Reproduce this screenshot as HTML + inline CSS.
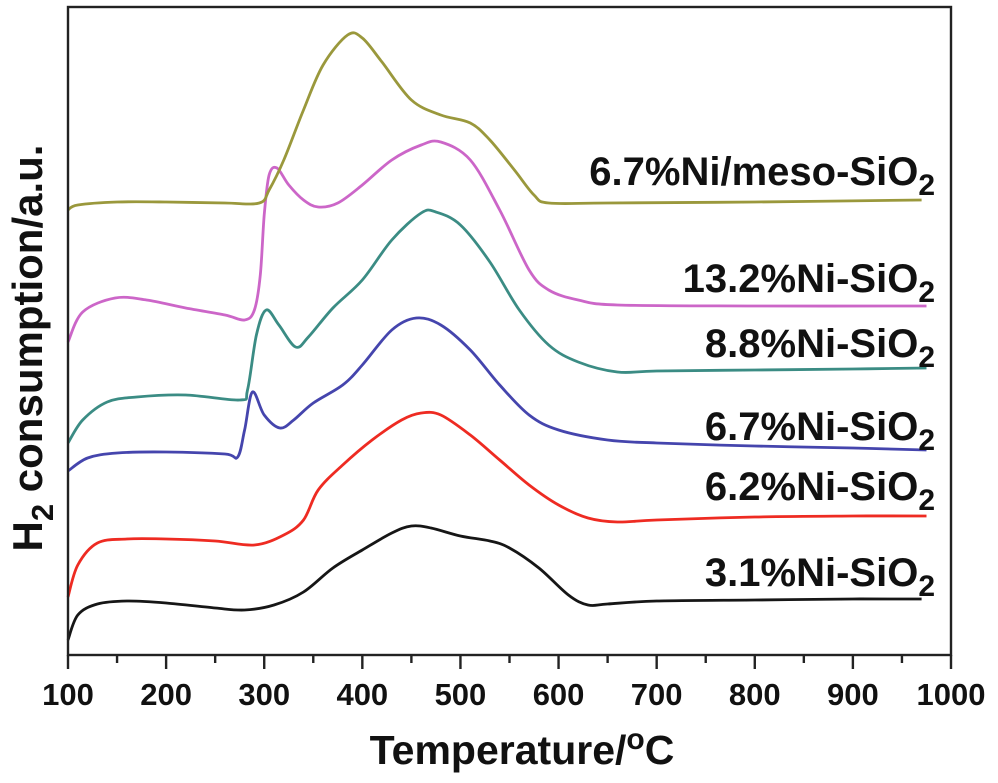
<!DOCTYPE html>
<html><head><meta charset="utf-8"><style>
html,body{margin:0;padding:0;background:#fff}
svg{display:block;font-family:"Liberation Sans",Arial,sans-serif;font-weight:bold}
</style></head><body>
<svg width="998" height="783" viewBox="0 0 998 783">
<g id="plot"></g>
</svg>
<script>
// x-axis ticks
const xTicks=[100,200,300,400,500,600,700,800,900,1000];
const xMinor=[150,250,350,450,550,650,750,850,950];
// series names
const names=["3.1%Ni-SiO2","6.2%Ni-SiO2","6.7%Ni-SiO2","8.8%Ni-SiO2","13.2%Ni-SiO2","6.7%Ni/meso-SiO2"];
const colors=["#161616","#ee2b22","#4545ad","#3b8c84","#cc66c8","#9a983c"];
// temperatures and signals (a.u., signal = height above x axis)
const t1=[100,110,130,160,200,250,280,310,340,370,400,430,450,470,500,530,550,580,610,630,650,700,800,900,970];
const s1=[15,40,51,54,52,47,45,50,63,87,105,122,129,127,119,114,107,87,60,50,51,54,55,56,56];
const t2=[100,110,130,160,200,250,290,320,340,355,380,410,440,460,480,510,540,570,600,630,660,700,800,900,975];
const s2=[58,90,112,116,116,114,110,120,135,165,190,215,235,242,240,220,195,170,150,137,133,135,138,139,139];
const t3=[100,120,150,200,260,273,280,288,300,316,330,350,380,400,430,455,480,510,540,570,600,650,700,800,900,975];
const s3=[184,197,202,203,201,198,225,263,240,227,235,252,270,290,325,337,330,305,270,240,225,215,212,209,207,205];
const t4=[100,115,140,170,220,275,283,292,302,315,332,345,370,400,430,460,475,500,530,560,590,620,660,700,800,900,975];
const s4=[212,235,253,258,260,255,265,320,345,330,308,318,347,375,415,442,443,430,393,345,310,293,283,284,285,286,287];
const t5=[100,115,148,180,220,260,280,290,296,300,305,313,325,340,355,375,400,430,460,480,510,540,570,590,620,660,800,975];
const s5=[313,343,357,355,347,340,335,345,380,440,480,487,470,455,448,452,470,495,510,513,495,445,385,365,355,350,349,349];
const t6=[100,110,150,200,260,295,305,320,340,360,385,400,420,450,480,510,530,555,575,590,650,800,970];
const s6=[445,450,453,453,452,452,465,495,545,590,620,617,593,555,540,532,515,485,460,452,452,453,455];
const ts=[t1,t2,t3,t4,t5,t6], ss=[s1,s2,s3,s4,s5,s6];
const labelY=[586,500,440,357,292,185];

const X0=68,X1=951,Y0=655,YT=7;
const xs=t=>X0+(t-100)/900*(X1-X0);
const ys=v=>Y0-v;
const NS="http://www.w3.org/2000/svg";
const g=document.getElementById('plot');
function mk(tag,attrs,parent){const e=document.createElementNS(NS,tag);for(const k in attrs)e.setAttribute(k,attrs[k]);(parent||g).appendChild(e);return e;}
function smooth(px,py){let d="M"+px[0]+","+py[0];for(let i=0;i<px.length-1;i++){const p0=i?i-1:i,p3=i+2<px.length?i+2:i+1;
const c1x=px[i]+(px[i+1]-px[p0])/6,c1y=py[i]+(py[i+1]-py[p0])/6,c2x=px[i+1]-(px[p3]-px[i])/6,c2y=py[i+1]-(py[p3]-py[i])/6;
d+=`C${c1x.toFixed(1)},${c1y.toFixed(1)} ${c2x.toFixed(1)},${c2y.toFixed(1)} ${px[i+1].toFixed(1)},${py[i+1].toFixed(1)}`;}return d;}

for(let k=0;k<names.length;k++){
 const p=mk('path',{d:smooth(ts[k].map(xs),ss[k].map(ys)),fill:'none',stroke:colors[k],'stroke-width':2.8,'stroke-linejoin':'round'});
 
 
 const tx=mk('text',{x:935,y:labelY[k],'text-anchor':'end','font-size':40,fill:'#111'});
 
 
 tx.textContent=names[k].slice(0,-1);
 const sub=mk('tspan',{'font-size':30,dy:10},tx);sub.textContent='2';
}
const fr=mk('rect',{x:X0,y:YT,width:X1-X0,height:Y0-YT,fill:'none',stroke:'#222','stroke-width':2.4});


xTicks.forEach(t=>{
 mk('line',{x1:xs(t),x2:xs(t),y1:Y0,y2:Y0+14,stroke:'#222','stroke-width':2.4});
 const l=mk('text',{x:xs(t),y:705,'text-anchor':'middle','font-size':31,fill:'#111'});
 
 
 l.textContent=t;
});
xMinor.forEach(t=>mk('line',{x1:xs(t),x2:xs(t),y1:Y0,y2:Y0+8,stroke:'#222','stroke-width':2.4}));
const xt=mk('text',{x:522,y:764,'text-anchor':'middle','font-size':41,fill:'#111'});


xt.textContent='Temperature/';
const sup=mk('tspan',{'font-size':30,dy:-15},xt);sup.textContent='o';
const sc=mk('tspan',{dy:15},xt);sc.textContent='C';
const yt=mk('text',{x:0,y:0,'text-anchor':'middle','font-size':42,fill:'#111',transform:'translate(42,348) rotate(-90)'});


yt.textContent='H';
const s2t=mk('tspan',{'font-size':31,dy:11},yt);s2t.textContent='2';
const s3t=mk('tspan',{dy:-11},yt);s3t.textContent=' consumption/a.u.';
</script>
</body></html>
